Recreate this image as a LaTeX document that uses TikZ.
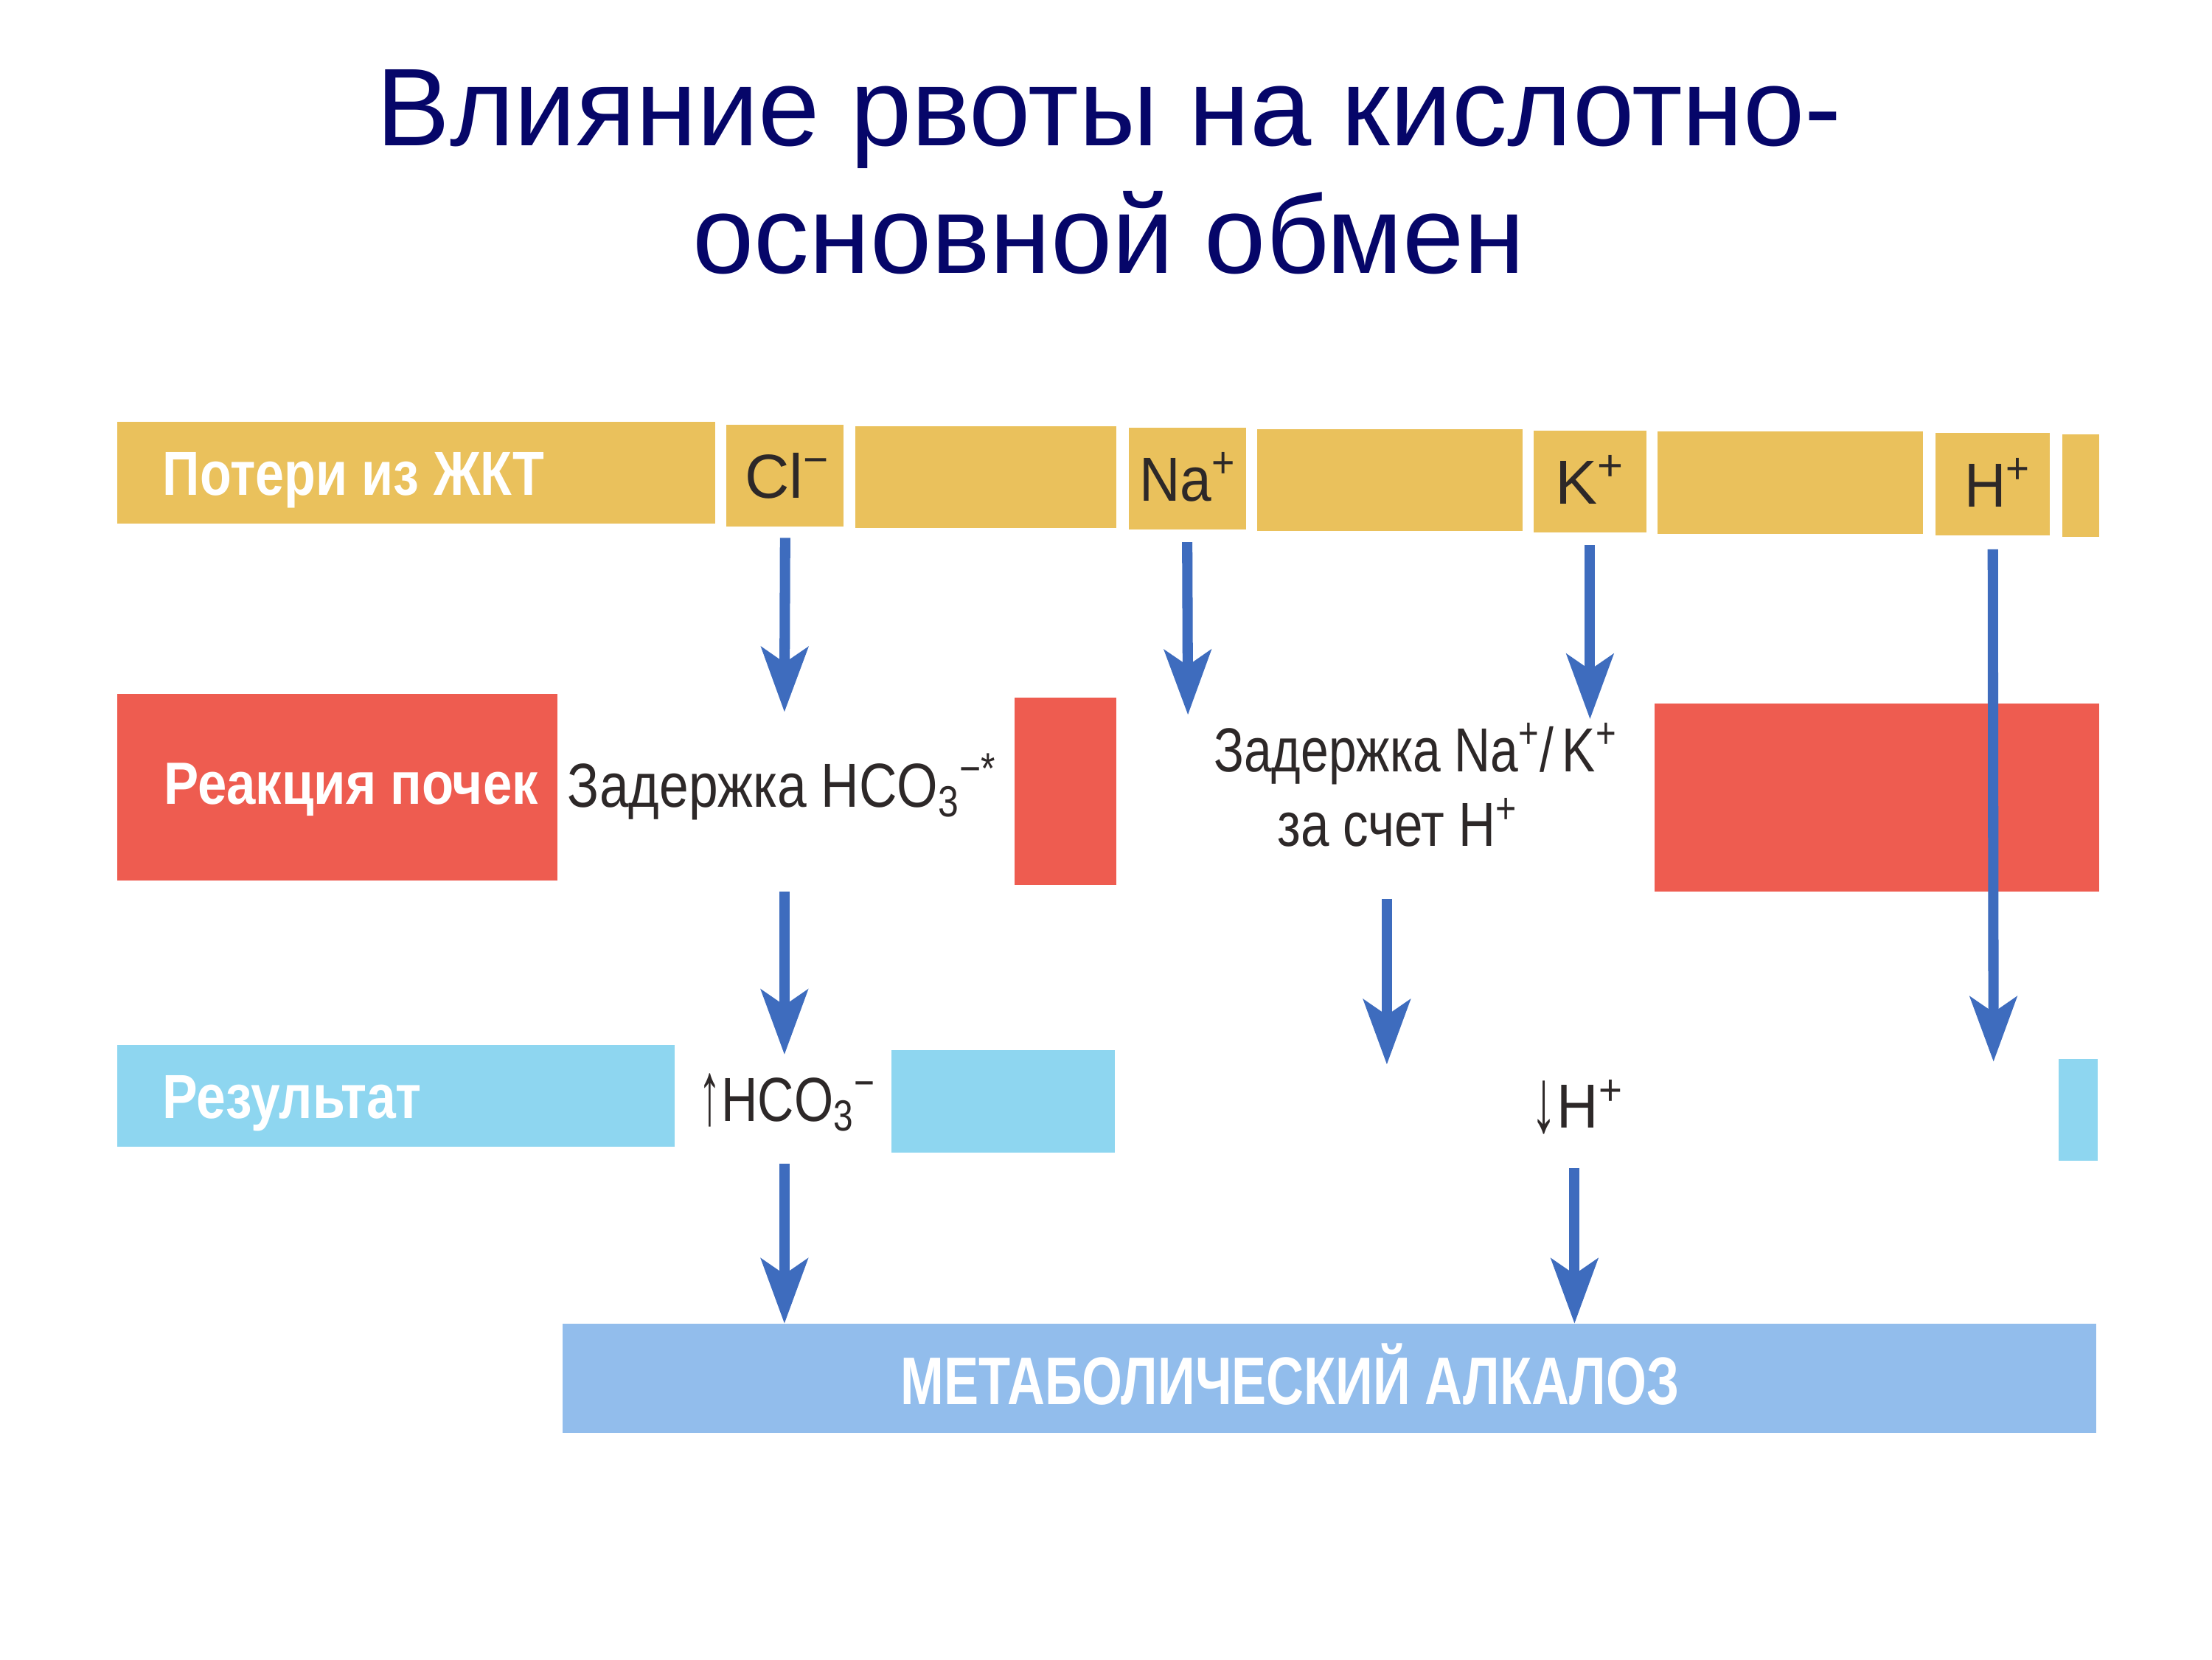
\documentclass[tikz,border=0pt]{standalone}
\usepackage{fontspec}
\setmainfont{Liberation Sans}
\usepackage{graphicx}
\usetikzlibrary{arrows.meta,fit,calc}
\definecolor{ttl}{RGB}{6,6,105}
\definecolor{yel}{RGB}{234,193,92}
\definecolor{redb}{RGB}{238,92,80}
\definecolor{cyanb}{RGB}{142,214,240}
\definecolor{blueb}{RGB}{146,189,236}
\definecolor{arrc}{RGB}{62,108,190}
\definecolor{darkt}{RGB}{45,40,40}
\newcommand\fw[3]{\resizebox{#1}{\height}{\fontsize{#2}{#2}\selectfont #3}}
\newcommand\subx[1]{\textsubscript{#1}}
\newcommand\supx[1]{\textsuperscript{#1}}
\newcommand\uparr{\raisebox{-0.05em}{\scalebox{0.9}[1.45]{↑}}}
\newcommand\dnarr{\raisebox{-0.05em}{\scalebox{0.9}[1.45]{↓}}}
\begin{document}
\begin{tikzpicture}[x=0.01913cm,y=-0.0192cm,
  bar/.style={inner sep=0pt, outer sep=0pt, draw=none},
  ybar/.style={bar, fill=yel},
  rbar/.style={bar, fill=redb},
  cbar/.style={bar, fill=cyanb},
  bbar/.style={bar, fill=blueb},
  lbl/.style={inner sep=0pt, anchor=base west, text=white, font=\bfseries},
  ion/.style={inner sep=0pt, anchor=base, text=darkt},
  dtxt/.style={inner sep=0pt, anchor=base west, text=darkt},
  ttltxt/.style={inner sep=0pt, anchor=base, text=ttl, font=\fontsize{42.6}{42.6}\selectfont},
  arr/.style={draw=arrc, line width=4pt, -{Stealth[length=25pt,width=18pt,inset=6pt]}}]

\useasboundingbox (0cm,0cm) rectangle (30cm,-22.5cm);

% title
\node[ttltxt] (t1) at (786,103) {Влияние рвоты на кислотно-};
\node[ttltxt] (t2) at (786,193) {основной обмен};

% row 1: losses
\node[ybar, fit={(83,298) (507,370)}] (p1) {};
\node[ybar, fit={(515,300) (598,372)}] (p2) {};
\node[ybar, fit={(606,301) (791,373)}] (p3) {};
\node[ybar, fit={(800,302) (883,374)}] (p4) {};
\node[ybar, fit={(891,303) (1079,375)}] (p5) {};
\node[ybar, fit={(1087,304) (1167,376)}] (p6) {};
\node[ybar, fit={(1175,305) (1363,377)}] (p7) {};
\node[ybar, fit={(1372,306) (1453,378)}] (p8) {};
\node[ybar, fit={(1462,307) (1488,379)}] (p9) {};
\node[lbl] (l1) at (115,350) {\fw{5.18cm}{24}{Потери из ЖКТ}};
\node[ion] (cl) at (558,352) {\fw{1.15cm}{24}{Cl\supx{−}}};
\node[ion] (na) at (842,354) {\fw{1.31cm}{24}{Na\supx{+}}};
\node[ion] (k) at (1127,356) {\fw{0.94cm}{24}{K\supx{+}}};
\node[ion] (h) at (1416,358) {\fw{0.90cm}{24}{H\supx{+}}};

% row 2: kidney reaction
\node[rbar, fit={(83,490) (395,622)}] (r1) {};
\node[rbar, fit={(719,493) (791,625)}] (r2) {};
\node[rbar, fit={(1173,497) (1488,630)}] (r3) {};
\node[lbl] (l2) at (116,568) {\fw{5.07cm}{23}{Реакция почек}};
\node[dtxt] (z1) at (402,570) {\fw{5.82cm}{24}{Задержка HCO\subx{3}\supx{−*}}};
\node[dtxt] (z2) at (860,545) {\fw{5.47cm}{24}{Задержка Na\supx{+}/\,K\supx{+}}};
\node[dtxt] (z3) at (905,598) {\fw{3.26cm}{24}{за счет H\supx{+}}};

% row 3: result
\node[cbar, fit={(83,738) (478,810)}] (s1) {};
\node[cbar, fit={(632,742) (790,814)}] (s2) {};
\node[cbar, fit={(1459,748) (1487,820)}] (s3) {};
\node[lbl] (l3) at (115,790) {\fw{3.51cm}{24}{Результат}};
\node[dtxt] (u1) at (495,792) {\fw{2.40cm}{24}{\uparr HCO\subx{3}\supx{−}}};
\node[dtxt] (u2) at (1085,797) {\fw{1.25cm}{24}{\dnarr H\supx{+}}};

% row 4: metabolic alkalosis
\node[bbar, fit={(399,935) (1486,1012)}] (m) {};
\node[lbl] (l4) at (638,992) {\fw{10.56cm}{26}{МЕТАБОЛИЧЕСКИЙ АЛКАЛОЗ}};

% arrow end points
\coordinate (e1) at (556,503);
\coordinate (e2) at (842,505);
\coordinate (e3) at (1127,508);
\coordinate (e4) at (1413,750);
\coordinate (b5) at (556,630);
\coordinate (e5) at (556,745);
\coordinate (b6) at (983,635);
\coordinate (e6) at (983,752);
\coordinate (b7) at (556,822);
\coordinate (b8) at (1116,825);

% arrows
\draw[arr] (p2.south) ++(0,8) -- (e1);
\draw[arr] (p4.south) ++(0,9) -- (e2);
\draw[arr] (p6.south) ++(0,9) -- (e3);
\draw[arr] (p8.south) ++(0,10) -- (e4);
\draw[arr] (b5) -- (e5);
\draw[arr] (b6) -- (e6);
\draw[arr] (b7) -- (m.north -| b7);
\draw[arr] (b8) -- (m.north -| b8);
\end{tikzpicture}
\end{document}
